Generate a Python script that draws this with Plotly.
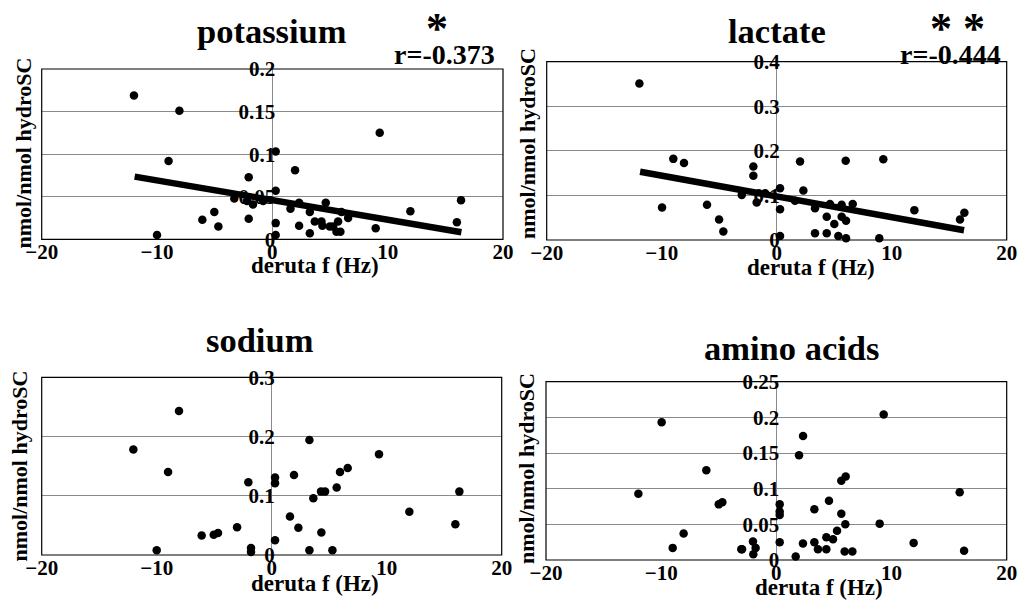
import plotly.graph_objects as go

# ---------------- data ----------------
k_x = [-12.0, -8.06, -9.0, -10.0, -6.07, -5.03, -4.68, -2.05, -2.05, -1.68,
       -3.3, -2.2, -0.8, 0.29, 0.29, 0.29, 0.29, 1.97, 1.57, 2.32, 2.32,
       3.25, 3.25, 3.68, 4.63, 4.26, 4.34, 4.98, 5.27, 5.56, 5.9, 5.7, 5.99,
       6.57, 9.31, 8.96, 11.97, 16.0, 16.36]
k_y = [0.169, 0.151, 0.092, 0.005, 0.023, 0.032, 0.015, 0.073, 0.024, 0.041,
       0.048, 0.045, 0.045, 0.103, 0.057, 0.019, 0.005, 0.081, 0.036, 0.043, 0.016,
       0.032, 0.007, 0.021, 0.043, 0.021, 0.016, 0.015, 0.015, 0.009, 0.009, 0.021, 0.032,
       0.025, 0.125, 0.013, 0.033, 0.020, 0.046]
k_fit_x = [-11.94, 16.39]
k_fit_y = [0.0736, 0.0082]

l_x = [-11.94, -8.99, -8.06, -9.97, -6.06, -5.01, -4.64, -2.03, -2.03, -1.74,
       -3.04, -1.0, 0.29, 0.29, 0.29, 2.03, 2.32, 1.59, 3.33, 3.33, 4.35, 4.35,
       4.63, 5.01, 5.36, 5.65, 5.65, 6.03, 6.03, 6.0, 6.61, 9.27, 8.92, 11.97,
       15.94, 16.32]
l_y = [0.351, 0.182, 0.173, 0.073, 0.079, 0.046, 0.019, 0.165, 0.144, 0.084,
       0.101, 0.105, 0.116, 0.069, 0.009, 0.176, 0.111, 0.088, 0.015, 0.071, 0.015, 0.052,
       0.081, 0.036, 0.009, 0.079, 0.052, 0.043, 0.004, 0.178, 0.081, 0.181, 0.004, 0.067,
       0.046, 0.061]
l_fit_x = [-11.88, 16.29]
l_fit_y = [0.153, 0.022]

na_x = [-8.06, -12.03, -9.01, -10.0, -6.09, -5.04, -4.67, -3.01, -2.03, -1.8,
        -1.8, 0.29, 0.29, 0.29, 1.94, 1.59, 2.32, 3.28, 3.28, 3.62, 4.29, 4.64,
        4.32, 5.28, 5.65, 5.94, 6.61, 9.33, 11.97, 15.97, 16.32]
na_y = [0.243, 0.178, 0.140, 0.008, 0.033, 0.034, 0.037, 0.047, 0.123, 0.005,
        0.012, 0.131, 0.121, 0.025, 0.135, 0.065, 0.046, 0.194, 0.008, 0.096, 0.107, 0.107,
        0.038, 0.008, 0.114, 0.140, 0.147, 0.170, 0.073, 0.052, 0.107]

aa_x = [-9.96, -11.98, -6.08, -5.0, -4.69, -8.05, -9.0, -2.98, -2.03, -1.8,
        -3.04, -2.0, 0.29, 0.29, 0.29, 0.29, 1.68, 2.31, 3.3, 3.3, 3.61, 4.34,
        4.34, 4.92, 4.57, 5.27, 5.64, 5.99, 5.93, 6.6, 8.97, 5.64, 6.02, 2.32,
        1.97, 9.32, 11.92, 15.92, 16.3]
aa_y = [0.193, 0.093, 0.126, 0.078, 0.081, 0.037, 0.017, 0.015, 0.026, 0.017,
        0.015, 0.008, 0.078, 0.068, 0.063, 0.025, 0.005, 0.023, 0.071, 0.025, 0.015, 0.015,
        0.032, 0.029, 0.083, 0.041, 0.065, 0.050, 0.012, 0.012, 0.051, 0.111, 0.117, 0.174,
        0.147, 0.204, 0.024, 0.095, 0.013]

x_ticks = [-20, -10, 0, 10, 20]
k_ticks = [0, 0.05, 0.1, 0.15, 0.2]
l_ticks = [0, 0.1, 0.2, 0.3, 0.4]
na_ticks = [0, 0.1, 0.2, 0.3]
aa_ticks = [0, 0.05, 0.1, 0.15, 0.2, 0.25]

titles = ["potassium", "lactate", "sodium", "amino acids"]
x_title = "deruta f (Hz)"
y_title = "nmol/nmol hydroSC"
r_texts = ["r=-0.373", "r=-0.444"]
stars = ["*", "* *"]

# ---------------- layout helpers ----------------
W, H = 1020, 604
FONT = "Liberation Serif"


def fx(p):
    return p / W


def fy(p):
    return 1 - p / H


# panel boxes in pixels: left, right, top, bottom
boxes = [(41.7, 503.0, 69.0, 239.3),
         (546.7, 1006.7, 61.7, 240.0),
         (41.7, 501.7, 377.3, 555.0),
         (546.0, 1006.7, 381.7, 560.0)]

panels = [(k_x, k_y, k_ticks, k_fit_x, k_fit_y),
          (l_x, l_y, l_ticks, l_fit_x, l_fit_y),
          (na_x, na_y, na_ticks, None, None),
          (aa_x, aa_y, aa_ticks, None, None)]

fig = go.Figure()
layout = dict(width=W, height=H, margin=dict(l=0, r=0, t=0, b=0, autoexpand=False),
              paper_bgcolor="white", plot_bgcolor="white", showlegend=False,
              font=dict(family=FONT, color="black"))
shapes = []
annotations = []

for i, ((xs, ys, yt, fxs, fys), (L, R, T, B)) in enumerate(zip(panels, boxes)):
    n = i + 1
    xa = "xaxis" if n == 1 else f"xaxis{n}"
    ya = "yaxis" if n == 1 else f"yaxis{n}"
    xr = "x" if n == 1 else f"x{n}"
    yr = "y" if n == 1 else f"y{n}"
    dx = [fx(L), fx(R)]
    dy = [fy(B), fy(T)]
    layout[xa] = dict(domain=dx, range=[-20, 20], anchor=yr, tickvals=x_ticks,
                      showgrid=False, zeroline=True, zerolinecolor="#8a8a8a",
                      zerolinewidth=1, showline=False, ticks="", automargin=False,
                      ticklabelstandoff=-2,
                      tickfont=dict(family=FONT, size=21, weight="bold", color="black"))
    layout[ya] = dict(domain=dy, range=[0, yt[-1]], anchor="free",
                      position=(dx[0] + dx[1]) / 2, tickvals=yt,
                      ticktext=[f"{v:g}" for v in yt],
                      showgrid=True, gridcolor="#8a8a8a", gridwidth=1,
                      zeroline=False, showline=False, ticks="", automargin=False,
                      ticklabelstandoff=-3,
                      tickfont=dict(family=FONT, size=21, weight="bold", color="black"))
    fig.add_trace(go.Scatter(x=xs, y=ys, mode="markers", xaxis=xr, yaxis=yr,
                             cliponaxis=False,
                             marker=dict(color="black", size=8.5, line=dict(width=0))))
    if fxs is not None:
        fig.add_trace(go.Scatter(x=fxs, y=fys, mode="lines", xaxis=xr, yaxis=yr,
                                 line=dict(color="black", width=6.5)))
    shapes.append(dict(type="rect", xref=f"{xr} domain", yref=f"{yr} domain",
                       x0=0, x1=1, y0=0, y1=1, line=dict(color="black", width=1.2),
                       layer="above"))

# titles
title_pos = [(272.4, 31.5), (776.7, 30.5), (260.0, 340.0), (791.7, 348.0)]
for t, (px, py) in zip(titles, title_pos):
    annotations.append(dict(text=t, x=fx(px), y=fy(py), xref="paper", yref="paper",
                            showarrow=False, xanchor="center", yanchor="middle",
                            font=dict(family=FONT, size=34.5, weight="bold", color="black")))

# x axis titles
xt_pos = [(315.0, 265.0), (810.8, 267.0), (315.0, 583.0), (819.0, 587.0)]
for px, py in xt_pos:
    annotations.append(dict(text=x_title, x=fx(px), y=fy(py), xref="paper", yref="paper",
                            showarrow=False, xanchor="center", yanchor="middle",
                            font=dict(family=FONT, size=23, weight="bold", color="black")))

# y axis titles
yt_pos = [(23.0, 153.5), (527.5, 143.5), (19.0, 466.5), (526.0, 469.0)]
for px, py in yt_pos:
    annotations.append(dict(text=y_title, x=fx(px), y=fy(py), xref="paper", yref="paper",
                            showarrow=False, xanchor="center", yanchor="middle",
                            textangle=-90,
                            font=dict(family=FONT, size=22, weight="bold", color="black")))

# significance marks and r values
for s, (px, py) in zip(stars, [(437.0, 29.0), (957.5, 29.0)]):
    annotations.append(dict(text=s, x=fx(px), y=fy(py), xref="paper", yref="paper",
                            showarrow=False, xanchor="center", yanchor="middle",
                            font=dict(family=FONT, size=44, weight="bold", color="black")))
for r, (px, py) in zip(r_texts, [(444.5, 55.0), (950.5, 54.5)]):
    annotations.append(dict(text=r, x=fx(px), y=fy(py), xref="paper", yref="paper",
                            showarrow=False, xanchor="center", yanchor="middle",
                            font=dict(family=FONT, size=28, weight="bold", color="black")))

layout["shapes"] = shapes
layout["annotations"] = annotations
fig.update_layout(**layout)
fig.write_html("out.html", config={"displayModeBar": False},
               post_script="document.body.style.margin='0';document.body.style.padding='0';")
